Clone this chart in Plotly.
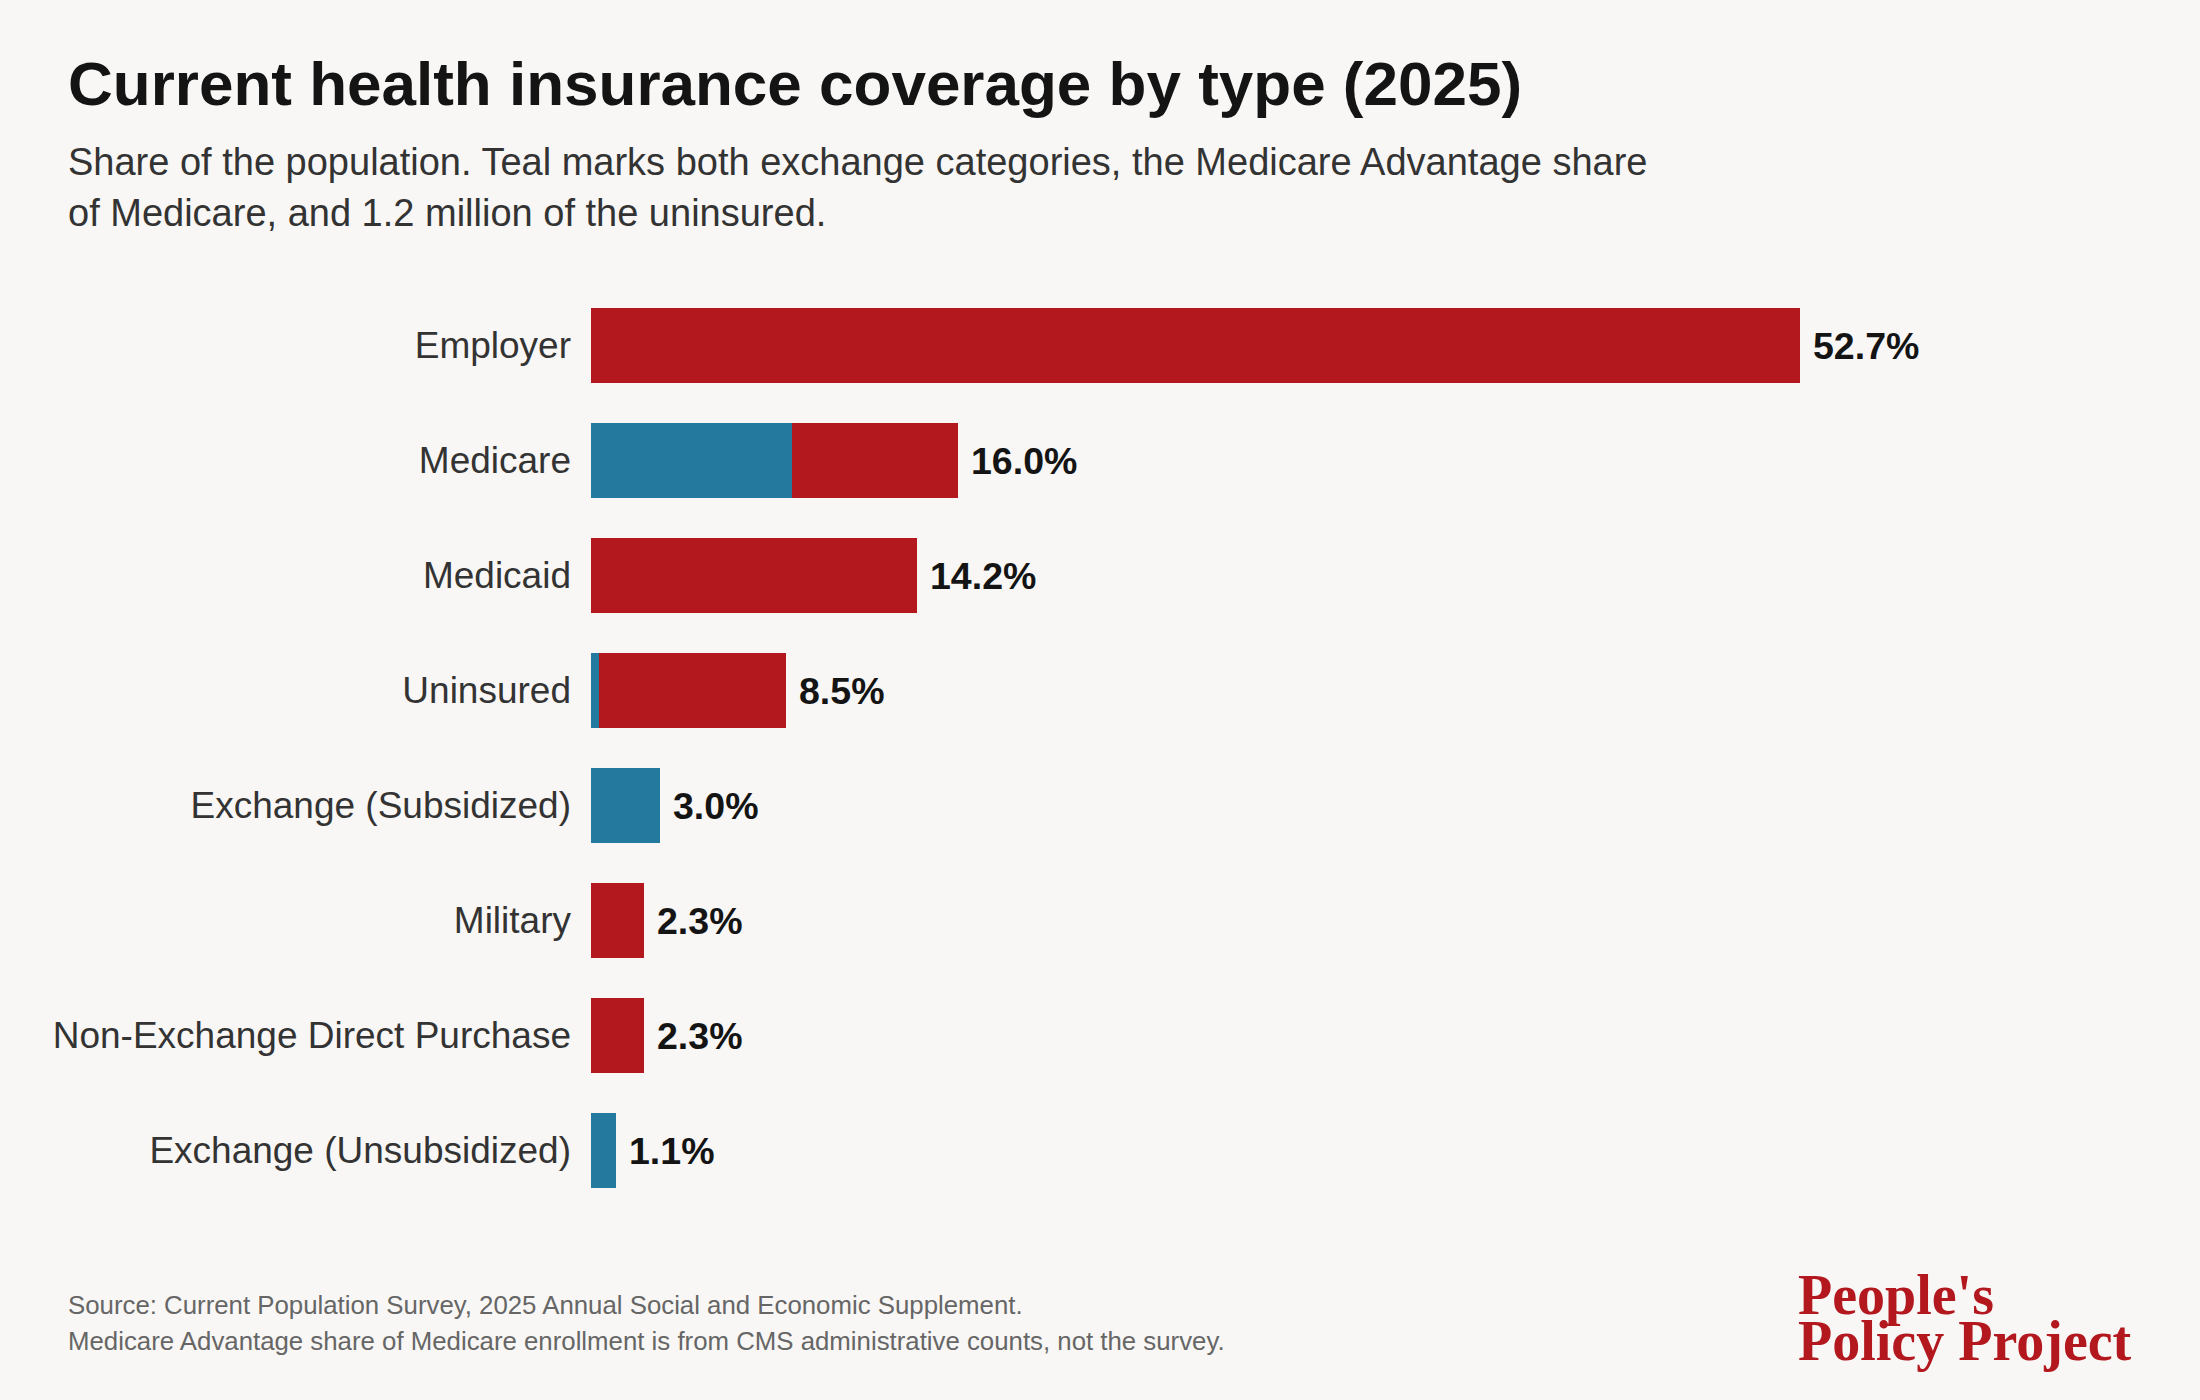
import plotly.graph_objects as go

categories = ["Employer", "Medicare", "Medicaid", "Uninsured",
              "Exchange (Subsidized)", "Military",
              "Non-Exchange Direct Purchase", "Exchange (Unsubsidized)"]
totals = [52.7, 16.0, 14.2, 8.5, 3.0, 2.3, 2.3, 1.1]
teal_part = [0.0, 8.75, 0.0, 0.35, 3.0, 0.0, 0.0, 1.1]
red_part = [52.7, 7.25, 14.2, 8.15, 0.0, 2.3, 2.3, 0.0]
value_labels = ["52.7%", "16.0%", "14.2%", "8.5%", "3.0%", "2.3%", "2.3%", "1.1%"]

TITLE = "Current health insurance coverage by type (2025)"
SUB1 = "Share of the population. Teal marks both exchange categories, the Medicare Advantage share"
SUB2 = "of Medicare, and 1.2 million of the uninsured."
FOOT1 = "Source: Current Population Survey, 2025 Annual Social and Economic Supplement."
FOOT2 = "Medicare Advantage share of Medicare enrollment is from CMS administrative counts, not the survey."
LOGO1 = "People's"
LOGO2 = "Policy Project"

RED = "#B2181E"
TEAL = "#237A9E"
BG = "#F8F7F5"
FONT = "Liberation Sans, Arial, sans-serif"
SERIF = "Liberation Serif, Times New Roman, serif"

W, H = 2200, 1400
L, R, T, B = 591, 66, 288, 192
PW, PH = W - L - R, H - T - B
PX_PER = 22.94
XMAX = PW / PX_PER


def py(pix):
    return (H - B - pix) / PH


def px(pix):
    return (pix - L) / PW


fig = go.Figure()
fig.add_trace(go.Bar(y=categories, x=teal_part, orientation="h",
                     marker=dict(color=TEAL, line=dict(width=0)),
                     hoverinfo="skip", showlegend=False))
fig.add_trace(go.Bar(y=categories, x=red_part, orientation="h",
                     marker=dict(color=RED, line=dict(width=0)),
                     hoverinfo="skip", showlegend=False))

annotations = []
for cat, tot, lab in zip(categories, totals, value_labels):
    annotations.append(dict(x=tot, y=cat, xref="x", yref="y", text=lab,
                            showarrow=False, xanchor="left", yanchor="middle",
                            xshift=11,
                            font=dict(family=FONT, size=37.5, color="#141414",
                                      weight="bold")))

annotations += [
    dict(x=px(66), y=py(84), xref="paper", yref="paper", text=f"<b>{TITLE}</b>",
         showarrow=False, xanchor="left", yanchor="middle",
         font=dict(family=FONT, size=62, color="#141414")),
    dict(x=px(66), y=py(162), xref="paper", yref="paper", text=SUB1,
         showarrow=False, xanchor="left", yanchor="middle",
         font=dict(family=FONT, size=38, color="#333333")),
    dict(x=px(66), y=py(213), xref="paper", yref="paper", text=SUB2,
         showarrow=False, xanchor="left", yanchor="middle",
         font=dict(family=FONT, size=38, color="#333333")),
    dict(x=px(66), y=py(1305), xref="paper", yref="paper", text=FOOT1,
         showarrow=False, xanchor="left", yanchor="middle",
         font=dict(family=FONT, size=25.8, color="#666666")),
    dict(x=px(66), y=py(1341), xref="paper", yref="paper", text=FOOT2,
         showarrow=False, xanchor="left", yanchor="middle",
         font=dict(family=FONT, size=25.8, color="#666666")),
    dict(x=px(1796), y=py(1295), xref="paper", yref="paper", text=f"<b>{LOGO1}</b>",
         showarrow=False, xanchor="left", yanchor="middle",
         font=dict(family=SERIF, size=56, color=RED)),
    dict(x=px(1796), y=py(1341), xref="paper", yref="paper", text=f"<b>{LOGO2}</b>",
         showarrow=False, xanchor="left", yanchor="middle",
         font=dict(family=SERIF, size=56, color=RED)),
]

fig.update_layout(
    width=W, height=H,
    barmode="stack", bargap=0.35,
    paper_bgcolor=BG, plot_bgcolor=BG,
    margin=dict(l=L, r=R, t=T, b=B, pad=0),
    font=dict(family=FONT, color="#333333"),
    annotations=annotations,
    showlegend=False,
)
fig.update_xaxes(range=[0, XMAX], visible=False, showgrid=False, zeroline=False,
                 fixedrange=True)
fig.update_yaxes(range=[7.5, -0.5], categoryorder="array", categoryarray=categories,
                 showgrid=False, zeroline=False, showline=False, ticks="",
                 ticklabelstandoff=19,
                 tickfont=dict(family=FONT, size=37, color="#333333"),
                 fixedrange=True)

fig.write_html(
    "out.html",
    config={"displayModeBar": False, "staticPlot": True},
    post_script=("document.body.style.margin='0';"
                 "document.documentElement.style.background='" + BG + "';"
                 "document.body.style.background='" + BG + "';"),
)
